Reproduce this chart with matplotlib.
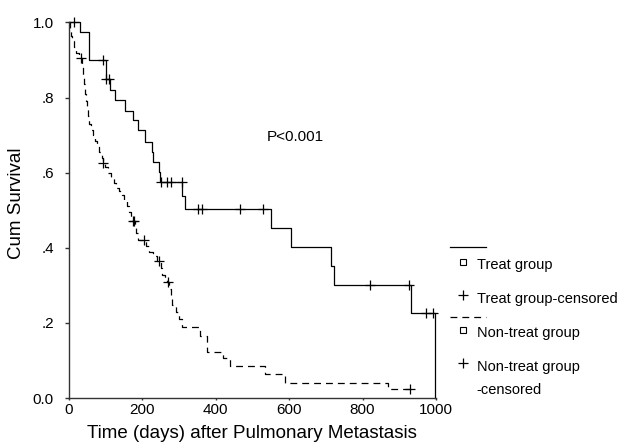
import numpy as np
import matplotlib
matplotlib.use("Agg")
import matplotlib.pyplot as plt

plt.rcParams['font.family'] = ['Liberation Sans', 'DejaVu Sans']

# Treat group: event days and survival after each step
tr_days = [0, 31, 55, 101, 113, 126, 154, 176, 190, 208, 226, 230, 247, 249,
           309, 317, 550, 605, 713, 722, 931, 998]
tr_surv = [1.0, 0.975, 0.90, 0.85, 0.82, 0.794, 0.765, 0.74, 0.714, 0.683,
           0.656, 0.629, 0.603, 0.576, 0.538, 0.502, 0.452, 0.401, 0.351,
           0.301, 0.226, 0.0]
tr_cens = [15, 95, 102, 110, 251, 267, 278, 308, 353, 362, 467, 528, 820,
           926, 972, 993]

# Non-treat group
nt_days = [0, 3, 6, 10, 15, 21, 28, 36, 39, 42, 45, 48, 51, 54, 57, 62, 67,
           72, 78, 84, 90, 93, 100, 108, 116, 124, 130, 138, 145, 152, 158,
           164, 170, 175, 180, 184, 189, 212, 220, 230, 240, 251, 254, 262,
           268, 274, 278, 281, 292, 300, 308, 358, 378, 420, 440, 535, 589,
           870, 929]
nt_surv = [1.0, 0.98, 0.965, 0.95, 0.935, 0.92, 0.906, 0.885, 0.86, 0.835,
           0.81, 0.79, 0.77, 0.75, 0.73, 0.715, 0.70, 0.685, 0.67, 0.655,
           0.64, 0.626, 0.615, 0.60, 0.587, 0.573, 0.56, 0.55, 0.54, 0.525,
           0.51, 0.495, 0.48, 0.472, 0.455, 0.44, 0.42, 0.405, 0.39, 0.378,
           0.365, 0.345, 0.328, 0.318, 0.31, 0.29, 0.27, 0.248, 0.23, 0.21,
           0.19, 0.165, 0.123, 0.106, 0.085, 0.064, 0.041, 0.023, 0.023]
nt_cens = [34, 94, 175, 178, 205, 246, 270, 929]

x_ticks = [0, 200, 400, 600, 800, 1000]
y_ticks = [0.0, 0.2, 0.4, 0.6, 0.8, 1.0]
y_ticklabels = ['0.0', '.2', '.4', '.6', '.8', '1.0']


def surv_at(days, surv, t):
    i = np.searchsorted(days, t, side='right') - 1
    return surv[i]


W, H = 627, 448
fig = plt.figure(figsize=(W / 100, H / 100), dpi=100)
ax = fig.add_axes([68.5 / W, 1 - 398 / H, (436 - 68.5) / W, (398 - 22.5) / H])

lw = 0.9
ax.step(tr_days, tr_surv, where='post', color='black', lw=lw, clip_on=False)
ln, = ax.step(nt_days, nt_surv, where='post', color='black', lw=lw, clip_on=False)
ln.set_dashes([5.5, 4])

ax.plot(tr_cens, [surv_at(tr_days, tr_surv, t) for t in tr_cens], ls='none',
        marker='+', ms=7, mew=0.9, color='black', clip_on=False)
ax.plot(nt_cens, [surv_at(nt_days, nt_surv, t) for t in nt_cens], ls='none',
        marker='+', ms=7, mew=0.9, color='black', clip_on=False)

ax.set_xlim(0, 1000)
ax.set_ylim(0, 1)
ax.set_xticks(x_ticks)
ax.set_yticks(y_ticks)
ax.set_yticklabels(y_ticklabels)
for s in ['top', 'right']:
    ax.spines[s].set_visible(False)
for s in ['left', 'bottom']:
    ax.spines[s].set_linewidth(1.0)
    ax.spines[s].set_color('#333333')
ax.tick_params(axis='y', length=3, width=1, pad=7.5, labelsize=11, color='#333333')
ax.tick_params(axis='x', length=1.5, width=1, pad=2, labelsize=11, color='#333333')

fig.text(17 / W, 1 - 203.5 / H, 'Cum Survival', rotation=90, ha='center',
         va='center', fontsize=13.5)
fig.text(252 / W, 1 - 437.5 / H, 'Time (days) after Pulmonary Metastasis',
         ha='center', va='baseline', fontsize=13.5)
fig.text(266.7 / W, 1 - 140.7 / H, 'P<0.001', ha='left', va='baseline',
         fontsize=11)

# legend drawn in pixel coordinates
lg = fig.add_axes([0, 0, 1, 1], facecolor='none')
lg.set_xlim(0, W)
lg.set_ylim(H, 0)
lg.axis('off')
lg.plot([450, 486], [246.7, 246.7], color='black', lw=lw)
dl, = lg.plot([450, 486], [317, 317], color='black', lw=lw)
dl.set_dashes([5.5, 4])
for yy in [261.7, 330]:
    lg.plot([462.7], [yy], marker='s', ms=4, mfc='white', mec='black', mew=0.8)
for yy in [295, 363]:
    lg.plot([462.7], [yy], marker='+', ms=7, mew=0.9, color='black')
leg_texts = [('Treat group', 268.5), ('Treat group-censored', 303),
             ('Non-treat group', 336.5), ('Non-treat group', 371.5),
             ('-censored', 394.5)]
for txt, yb in leg_texts:
    lg.text(476.7, yb, txt, ha='left', va='baseline', fontsize=10.5)

fig.savefig('out.png', dpi=100)
